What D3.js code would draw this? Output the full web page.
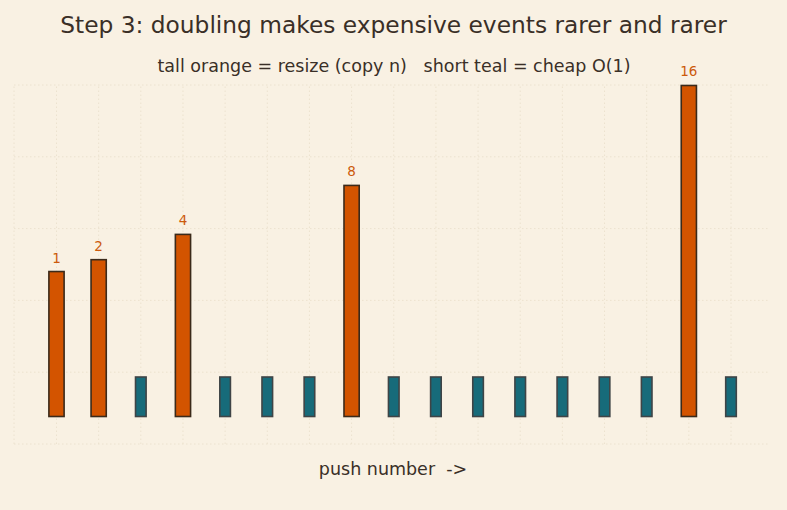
<!DOCTYPE html>
<html>
<head>
<meta charset="utf-8">
<script src="https://cdn.jsdelivr.net/npm/d3@7"></script>
<style>
  html, body { margin: 0; padding: 0; background: #f9f1e3; }
  svg { display: block; }
  text { white-space: pre; }
</style>
</head>
<body>
<script>
// ---- data ----
const pushes = d3.range(1, 18);                       // push number 1..17
const kinds = ["resize","resize","cheap","resize","cheap","cheap","cheap","resize",
               "cheap","cheap","cheap","cheap","cheap","cheap","cheap","resize","cheap"];
const costs = [3.67, 3.97, 1, 4.61, 1, 1, 1, 5.85, 1, 1, 1, 1, 1, 1, 1, 8.38, 1];
const copyLabels = ["1","2","","4","","","","8","","","","","","","","16",""];
const gridTicks = d3.range(0, 6);
const titleText = "Step 3: doubling makes expensive events rarer and rarer";
const subtitleText = "tall orange = resize (copy n)   short teal = cheap O(1)";
const xLabelText = "push number  ->";

const W = 787, H = 510;
const svg = d3.select("body").append("svg").attr("width", W).attr("height", H);
svg.append("rect").attr("width", W).attr("height", H).attr("fill", "#f9f1e3");

const x = d3.scaleLinear().domain([1, 17]).range([56.5, 731]);
const y = d3.scaleLinear().domain([0, 8.4]).range([416.5, 84.7]);
const gy = d3.scaleLinear().domain([0, 5]).range([444, 85]);
const left = 14, right = 769;

// grid
const grid = svg.append("g").attr("stroke", "#ece2cf").attr("stroke-width", 1).attr("stroke-dasharray", "1.5,2.5");
grid.selectAll("line.v").data(d3.range(0, 18)).join("line")
  .attr("x1", d => d === 0 ? left : x(d)).attr("x2", d => d === 0 ? left : x(d))
  .attr("y1", gy(0)).attr("y2", gy(5));
grid.selectAll("line.h").data(gridTicks).join("line")
  .attr("x1", left).attr("x2", right).attr("y1", d => gy(d)).attr("y2", d => gy(d));

// bars
const data = pushes.map((p, i) => ({p, kind: kinds[i], cost: costs[i], label: copyLabels[i]}));
svg.append("g").selectAll("rect").data(data).join("rect")
  .attr("x", d => x(d.p) - (d.kind === "resize" ? 7.6 : 5.3))
  .attr("width", d => d.kind === "resize" ? 15.2 : 10.6)
  .attr("y", d => y(d.cost))
  .attr("height", d => y(0) - y(d.cost))
  .attr("fill", d => d.kind === "resize" ? "#d35400" : "#176b7a")
  .attr("stroke", d => d.kind === "resize" ? "#3b2a1a" : "#3f4446")
  .attr("stroke-width", 1.6);

// labels
svg.append("g").selectAll("text").data(data.filter(d => d.label)).join("text")
  .attr("x", d => x(d.p))
  .attr("y", d => y(d.cost) - 9)
  .attr("text-anchor", "middle")
  .attr("font-family", "DejaVu Sans")
  .attr("font-size", 13.5)
  .attr("fill", "#cc5a0c")
  .text(d => d.label);

// titles
svg.append("text").attr("x", 393.5).attr("y", 33).attr("text-anchor", "middle")
  .attr("font-family", "DejaVu Sans").attr("font-size", 23.3).attr("fill", "#3a2f27").text(titleText);
svg.append("text").attr("x", 394).attr("y", 72).attr("text-anchor", "middle")
  .attr("font-family", "DejaVu Sans").attr("font-size", 17.5).attr("fill", "#3a2f27").text(subtitleText);
svg.append("text").attr("x", 393).attr("y", 475).attr("text-anchor", "middle")
  .attr("font-family", "DejaVu Sans").attr("font-size", 17.5).attr("fill", "#3a2f27").text(xLabelText);
</script>
</body>
</html>
